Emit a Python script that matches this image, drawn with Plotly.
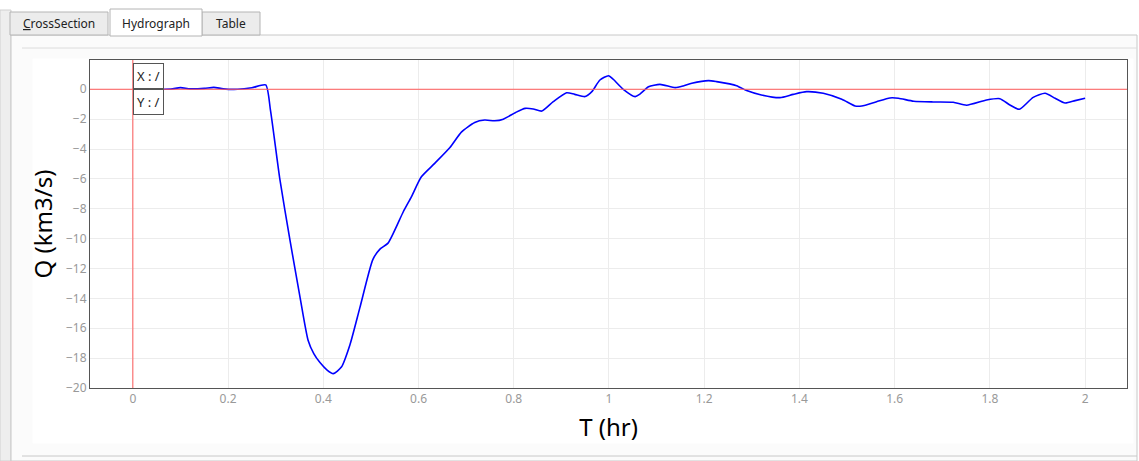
import plotly.graph_objects as go

# Hydrograph
t_hr = [0, 0.04, 0.08, 0.1, 0.12, 0.15, 0.17, 0.19, 0.22, 0.25, 0.279, 0.289,
        0.309, 0.330, 0.351, 0.368, 0.38, 0.393, 0.408, 0.421, 0.438, 0.456, 0.477, 0.504,
        0.519, 0.536, 0.568, 0.585, 0.606, 0.634, 0.666, 0.690, 0.718, 0.739,
        0.760, 0.778, 0.804, 0.824, 0.841, 0.859, 0.883, 0.911, 0.928, 0.950,
        0.964, 0.981, 0.999, 1.009, 1.030, 1.055, 1.065, 1.083, 1.107, 1.139,
        1.156, 1.174, 1.209, 1.226, 1.268, 1.289, 1.320, 1.359, 1.387, 1.415,
        1.450, 1.489, 1.517, 1.531, 1.562, 1.590, 1.608, 1.640, 1.681, 1.723,
        1.751, 1.793, 1.821, 1.842, 1.862, 1.891, 1.916, 1.937, 1.958, 1.979, 2.0]
q_km3s = [0, 0, 0.01, 0.11, 0.03, 0.06, 0.13, 0.03, 0.0, 0.1, 0.29, -1.39,
          -6.07, -10.1, -13.9, -16.8, -17.7, -18.3, -18.8, -19.04, -18.6, -17.1, -14.6, -11.4,
          -10.7, -10.3, -8.2, -7.2, -5.86, -4.96, -3.9, -2.87, -2.22, -2.06,
          -2.11, -2.0, -1.55, -1.28, -1.32, -1.46, -0.83, -0.23, -0.34, -0.49,
          -0.16, 0.62, 0.91, 0.67, 0.0, -0.49, -0.32, 0.17, 0.33, 0.11,
          0.22, 0.40, 0.58, 0.51, 0.24, -0.09, -0.38, -0.56, -0.34, -0.16,
          -0.27, -0.67, -1.12, -1.12, -0.83, -0.58, -0.60, -0.80, -0.85, -0.87,
          -1.07, -0.72, -0.63, -1.05, -1.34, -0.54, -0.27, -0.60, -0.92, -0.76, -0.60]

tab_labels = ["<u>C</u>rossSection", "Hydrograph", "Table"]

W, H = 1139, 461
L, R, T, B = 90, 12, 60, 73


def px(x):
    return (x - L) / (W - L - R)


def py(y):
    return (H - B - y) / (H - T - B)


def rect(x0, y0, x1, y1, fill, line=None):
    return dict(type="rect", xref="paper", yref="paper", layer="below",
                x0=px(x0), x1=px(x1), y0=py(y1), y1=py(y0),
                fillcolor=fill, line=dict(color=line or fill, width=1))


def hline(x0, x1, y, color):
    return dict(type="line", xref="paper", yref="paper", layer="below",
                x0=px(x0), x1=px(x1), y0=py(y), y1=py(y),
                line=dict(color=color, width=1))


fig = go.Figure(go.Scatter(x=t_hr, y=q_km3s, mode="lines",
                           line=dict(color="#0000ff", width=1.6,
                                     shape="spline", smoothing=0.6)))

shapes = [
    rect(0, 0, W, 10, "#ffffff"),
    rect(0, 10, 11, H, "#eeeeee", "#d0d0d0"),
    rect(11, 35, W - 2, H, "#fbfbfb", "#c8c8c8"),
    hline(22, W - 2, 48, "#dcdcdc"),
    rect(33, 59, W - 6, 443, "#ffffff"),
    hline(22, W - 2, 456, "#c8c8c8"),
    rect(10, 12, 108, 35, "#ececec", "#b4b4b4"),
    rect(202, 12, 260, 35, "#ececec", "#b4b4b4"),
    rect(110, 9, 202, 36, "#ffffff", "#b4b4b4"),
    # red cross-hair lines at T=0 and Q=0
    dict(type="line", xref="paper", yref="y", layer="above",
         x0=0, x1=1, y0=0, y1=0, line=dict(color="#ff5a5a", width=1)),
    dict(type="line", xref="x", yref="paper", layer="above",
         x0=0, x1=0, y0=0, y1=1, line=dict(color="#ff5a5a", width=1)),
]

annotations = []
for label, x0, x1 in zip(tab_labels, [10, 110, 202], [108, 202, 260]):
    annotations.append(dict(xref="paper", yref="paper", x=px((x0 + x1) / 2),
                            y=py(23), text=label, showarrow=False,
                            xanchor="center", yanchor="middle",
                            font=dict(family="Noto Sans", size=12, color="#222222")))

annotations += [
    dict(x=0, y=0, xref="x", yref="y", text="X : /", showarrow=False,
         xanchor="left", yanchor="bottom", bgcolor="#ffffff",
         bordercolor="#555555", borderwidth=1, borderpad=3,
         font=dict(family="Noto Sans", size=13, color="#222222")),
    dict(x=0, y=0, xref="x", yref="y", text="Y : /", showarrow=False,
         xanchor="left", yanchor="top", bgcolor="#ffffff",
         bordercolor="#555555", borderwidth=1, borderpad=3,
         font=dict(family="Noto Sans", size=13, color="#222222")),
]

axis_common = dict(showgrid=True, gridcolor="#ececec", gridwidth=1,
                   showline=True, linecolor="#555555", linewidth=1, mirror=True,
                   zeroline=False,
                   tickfont=dict(family="Noto Sans", size=12, color="#999999"),
                   ticks="")

fig.update_layout(
    width=W, height=H,
    margin=dict(l=L, r=R, t=T, b=B, pad=0),
    paper_bgcolor="#ffffff", plot_bgcolor="#ffffff",
    showlegend=False,
    shapes=shapes,
    annotations=annotations,
    xaxis=dict(range=[-0.09, 2.088], dtick=0.2, tick0=0,
               title=dict(text="T (hr)", standoff=12,
                          font=dict(family="Noto Sans", size=24, color="#000000")),
               **axis_common),
    yaxis=dict(range=[-20, 1.96], dtick=2, tick0=0,
               title=dict(text="Q (km3/s)", standoff=6,
                          font=dict(family="Noto Sans", size=24, color="#000000")),
               **axis_common),
)

fig.write_html("out.html", config={"displayModeBar": False},
               post_script="document.body.style.margin='0';")
